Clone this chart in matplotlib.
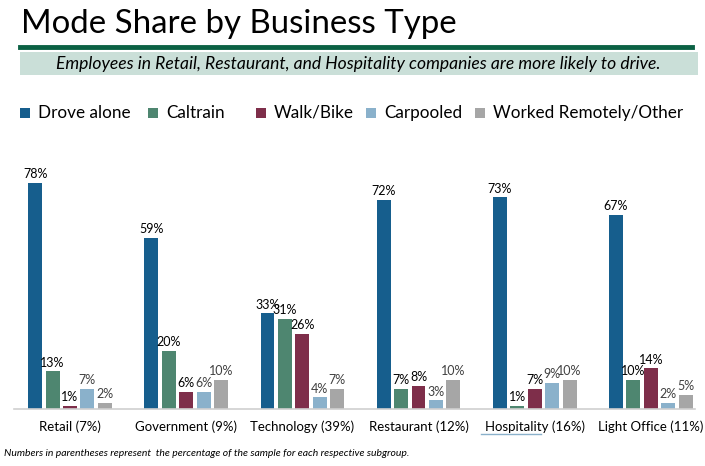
import matplotlib
matplotlib.use("Agg")
import matplotlib.pyplot as plt
from matplotlib.patches import Rectangle
from matplotlib.lines import Line2D
import numpy as np

categories = ["Retail (7%)", "Government (9%)", "Technology (39%)",
              "Restaurant (12%)", "Hospitality (16%)", "Light Office (11%)"]
series_names = ["Drove alone", "Caltrain", "Walk/Bike", "Carpooled", "Worked Remotely/Other"]
drove_alone = [78, 59, 33, 72, 73, 67]
caltrain = [13, 20, 31, 7, 1, 10]
walk_bike = [1, 6, 26, 8, 7, 14]
carpooled = [7, 6, 4, 3, 9, 2]
other = [2, 10, 7, 10, 10, 5]
colors = ["#165E8D", "#4E8670", "#7E2E4A", "#8AB1CB", "#A6A6A6"]
label_colors = ["#000000", "#000000", "#000000", "#404040", "#404040"]

W, H = 705, 466
fig = plt.figure(figsize=(W / 100, H / 100), dpi=100)
fam = ["Lato", "DejaVu Sans"]

def fx(px):
    return px / W

def fy(py):
    return 1 - py / H

# Title
fig.text(fx(21), fy(24), "Mode Share by Business Type", fontsize=23.8, family=fam,
         ha="left", va="center", color="#000000")
fig.add_artist(Line2D([fx(20), fx(692)], [fy(47), fy(47)], color="#0B6144", lw=3.5))
fig.add_artist(Rectangle((fx(20), fy(75)), fx(678), 23 / H, facecolor="#CADFD8",
                         edgecolor="none", transform=fig.transFigure))
fig.text(fx(358), fy(64), "Employees in Retail, Restaurant, and Hospitality companies are more likely to drive.",
         fontsize=12.6, style="italic", family=fam, ha="center", va="center")

# Axes
ax_left, ax_right = 14, 695
ax_bottom, ax_top = 409, 177
ax = fig.add_axes([fx(ax_left), fy(ax_bottom), (ax_right - ax_left) / W, (ax_bottom - ax_top) / H])

x = np.arange(len(categories))
data = [drove_alone, caltrain, walk_bike, carpooled, other]
pitch = 0.15
width = 0.12
for i, (vals, c, lc, name) in enumerate(zip(data, colors, label_colors, series_names)):
    pos = x + (i - 2) * pitch
    ax.bar(pos, vals, width, color=c, label=name)
    for p, v in zip(pos, vals):
        ax.annotate(f"{v}%", (p, v), xytext=(0, 2), textcoords="offset points",
                    ha="center", va="bottom", fontsize=9, family=fam, color=lc)

ax.set_xlim(-0.482, 5.38)
ax.set_ylim(0, 80)
ax.set_xticks(x)
ax.set_xticklabels(categories, fontsize=9.5, family=fam)
ax.tick_params(axis="x", length=0, pad=8)
ax.set_yticks([])
for s in ["top", "right", "left"]:
    ax.spines[s].set_visible(False)
ax.spines["bottom"].set_color("#D0D0D0")
ax.spines["bottom"].set_linewidth(1.2)
ax.set_facecolor("none")

# Legend (manual placement to match the reference)
legend_x = [20, 148, 256, 366, 475]
sq = 10
for lx, c, name in zip(legend_x, colors, series_names):
    fig.add_artist(Rectangle((fx(lx), fy(113 + sq / 2)), sq / W, sq / H, facecolor=c,
                             edgecolor="none", transform=fig.transFigure))
    fig.text(fx(lx + sq + 8), fy(113), name, fontsize=12.3, family=fam,
             ha="left", va="center")

# spell-check style underline under "Hospitality"
fig.add_artist(Line2D([fx(481), fx(541)], [fy(434), fy(434)], color="#8AB1CB", lw=1))

# Footnote
fig.text(fx(4), fy(454), "Numbers in parentheses represent  the percentage of the sample for each respective subgroup.",
         fontsize=7.5, style="italic", family=fam, ha="left", va="center")

fig.savefig("out.png", dpi=100)
